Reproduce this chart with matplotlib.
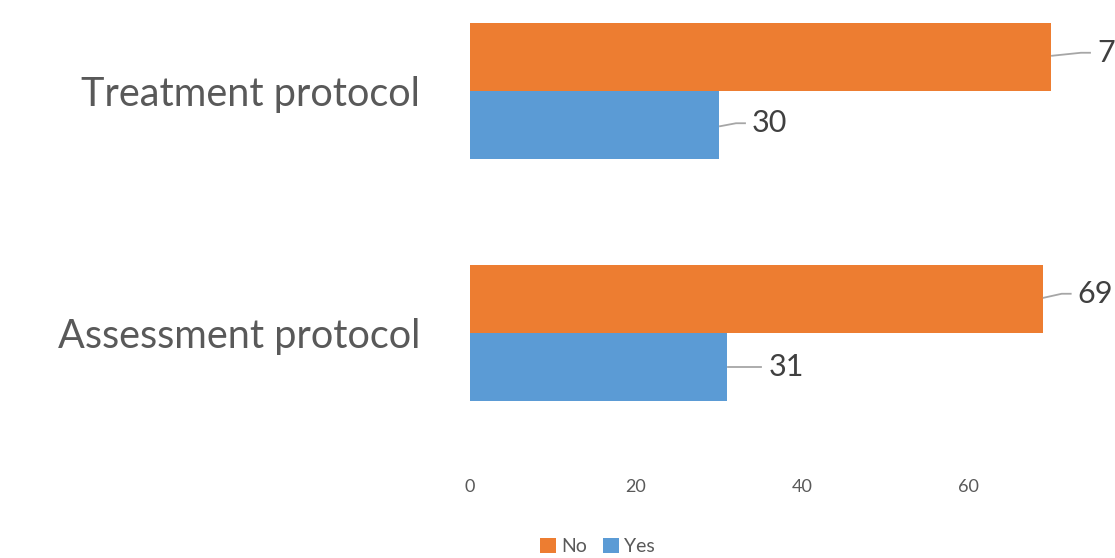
import matplotlib.pyplot as plt
from matplotlib.lines import Line2D
from matplotlib.transforms import IdentityTransform

plt.rcParams["font.family"] = ["Lato", "DejaVu Sans"]

categories = ["Assessment protocol", "Treatment protocol"]
no_values = [69, 70]
yes_values = [31, 30]
x_ticks = [0, 20, 40, 60]

ORANGE = "#ED7D31"
BLUE = "#5B9BD5"
TEXT = "#595959"
LABEL = "#404040"
LEADER = "#A6A6A6"

fig = plt.figure(figsize=(11.15, 5.58), dpi=100)
# axes run past the right edge, so the top of the scale is cut off
ax = fig.add_axes([470 / 1115, 103 / 558, 664 / 1115, 455 / 558])

h = 0.283
pos = list(range(len(categories)))
no_y = [p + h / 2 for p in pos]
yes_y = [p - h / 2 for p in pos]

ax.barh(no_y, no_values, height=h, color=ORANGE, label="No")
ax.barh(yes_y, yes_values, height=h, color=BLUE, label="Yes")

ax.set_xlim(0, 80)
ax.set_ylim(-122 / 242, 1 + 91 / 242)
ax.set_xticks(x_ticks)
ax.set_yticks(pos)
ax.set_yticklabels(categories, fontsize=28.5, color=TEXT)
ax.tick_params(axis="y", length=0, pad=36)
ax.tick_params(axis="x", length=0, pad=17, labelsize=13, labelcolor=TEXT)
for s in ax.spines.values():
    s.set_visible(False)

# data labels with a bent leader line; offsets in pixels (text x, text y, line rise at bar)
no_offsets = [(35, 5, 1), (46, 4, 1)]
yes_offsets = [(41, 0, 0), (33, 2, -1)]
for vals, ys, offs in [(no_values, no_y, no_offsets), (yes_values, yes_y, yes_offsets)]:
    for v, y, (dx, dy, rise) in zip(vals, ys, offs):
        bx, by = ax.transData.transform((v, y))
        ax.text(bx + dx, by + dy, str(v), transform=IdentityTransform(),
                ha="left", va="center", fontsize=22, color=LABEL, clip_on=False)
        xs = [bx + 1, bx + dx - 16, bx + dx - 7]
        ys_line = [by + rise, by + dy, by + dy]
        fig.add_artist(Line2D(xs, ys_line, transform=IdentityTransform(),
                              color=LEADER, lw=1.3))

fig.legend(loc="center", bbox_to_anchor=(0.536, 0.021), ncol=2, frameon=False,
           fontsize=14, labelcolor=TEXT, handlelength=0.8, handleheight=0.8,
           handletextpad=0.3, columnspacing=0.8)

fig.savefig("out.png", dpi=100)
